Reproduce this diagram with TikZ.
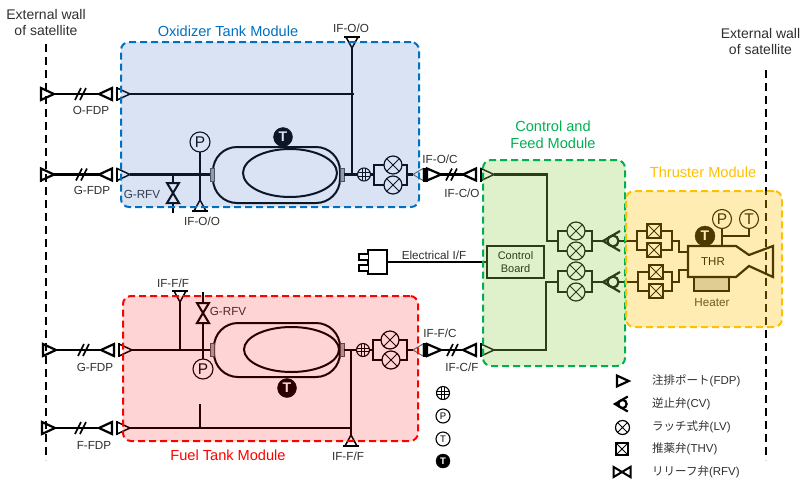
\documentclass[tikz,border=0pt]{standalone}
\usepackage{fontspec}
\setmainfont{Liberation Sans}
\newfontfamily\cjkjp{Noto Sans CJK JP}
\usetikzlibrary{shapes.geometric,calc}
\definecolor{txtgray}{HTML}{2F2F2F}
\definecolor{oxblue}{HTML}{0070C0}
\definecolor{oxfill}{HTML}{4472C4}
\definecolor{fuelred}{HTML}{FF0000}
\definecolor{ctrlgreen}{HTML}{00B050}
\definecolor{ctrlfill}{HTML}{92D050}
\definecolor{thramber}{HTML}{FFC000}
\tikzset{
  x=1pt,y=-1pt,
  pipe/.style={line width=2.2pt,line cap=butt},
  ext/.style={line width=2.2pt},
  int/.style={line width=1.5pt},
  wall/.style={line width=2.2pt,dash pattern=on 8pt off 5pt},
  lbl/.style={font=\fontsize{11.7}{13}\selectfont,text=txtgray,inner sep=0pt},
  wlbl/.style={font=\fontsize{14}{16}\selectfont,text=txtgray,inner sep=0pt,align=center},
  title/.style={font=\fontsize{14.6}{16.5}\selectfont,inner sep=0pt,align=center},
  legtxt/.style={font=\fontsize{11.5}{13}\selectfont,text=txtgray,inner sep=0pt,anchor=west},
  module/.style={rectangle,rounded corners=8pt,line width=2pt,dash pattern=on 7pt off 4pt,inner sep=0pt,outer sep=0pt},
  lv/.style={circle,draw,line width=1.2pt,minimum size=18pt,inner sep=0pt,outer sep=0pt,
    path picture={\draw[line width=1pt] (path picture bounding box.north west)--(path picture bounding box.south east)
      (path picture bounding box.north east)--(path picture bounding box.south west);}},
  thv/.style={rectangle,draw,line width=2pt,minimum size=14pt,inner sep=0pt,outer sep=0pt,
    path picture={\draw[line width=1pt] (path picture bounding box.north west)--(path picture bounding box.south east)
      (path picture bounding box.north east)--(path picture bounding box.south west);}},
  filt/.style={circle,draw,line width=1.1pt,minimum size=13pt,inner sep=0pt,outer sep=0pt,
    path picture={\draw[line width=.8pt]
      ([xshift=-1.7pt]path picture bounding box.north)--([xshift=-1.7pt]path picture bounding box.south)
      ([xshift=1.7pt]path picture bounding box.north)--([xshift=1.7pt]path picture bounding box.south)
      ([yshift=-1.7pt]path picture bounding box.west)--([yshift=-1.7pt]path picture bounding box.east)
      ([yshift=1.7pt]path picture bounding box.west)--([yshift=1.7pt]path picture bounding box.east);}},
  gauge/.style={circle,draw,line width=1.1pt,minimum size=20pt,inner sep=0pt,outer sep=0pt,font=\fontsize{15.5}{15.5}\selectfont},
  tsolid/.style={circle,fill=black,draw=black,minimum size=19pt,inner sep=0pt,outer sep=0pt,text=white,font=\bfseries\fontsize{14}{14}\selectfont},
  smallgauge/.style={gauge,minimum size=14pt,font=\fontsize{9.5}{9.5}\selectfont},
  tank/.style={rectangle,draw,rounded corners=24pt,line width=2pt,inner sep=0pt,outer sep=0pt},
  oval/.style={ellipse,draw,line width=2pt,inner sep=0pt,outer sep=0pt},
  stub/.style={rectangle,draw=black!70,fill=black!35,line width=.8pt,inner sep=0pt,outer sep=0pt,minimum width=4pt,minimum height=13pt},
  pics/port/.style={code={
    \draw (0,-7)--(0,7);
    \draw (0,-6)--(13,0)--(0,6)--cycle;
    \coordinate (-a) at (13,0);}},
  pics/tri/.style={code={
    \draw (0,-6)--(13,0)--(0,6)--cycle;
    \coordinate (-a) at (13,0);
    \coordinate (-b) at (0,0);}},
  pics/ifport/.style={code={
    \draw[line width=1pt,black!60] (-10,0)--(0,-6)--(0,6)--cycle;
    \draw[line width=5pt] (2,-7)--(2,7);
    \draw[line width=2.2pt] (4,-6)--(18,0)--(4,6)--cycle;
    \coordinate (-a) at (18,0);
    \coordinate (-b) at (-10,0);}},
  pics/dslash/.style={code={
    \draw[line width=1.6pt] (-6,6)--(0,-6) (-1,6)--(5,-6);}},
  pics/rfv/.style={code={
    \draw[line width=2pt,line join=miter] (-6,-10)--(6,-10)--(-6,10)--(6,10)--cycle;
    \coordinate (-n) at (0,-10);
    \coordinate (-s) at (0,10);}},
  pics/cv/.style={code={
    \draw[line width=2.2pt] (17,-10)--(0,0)--(17,10);
    \draw[line width=2.2pt] (10,0) circle [radius=5.5pt];
    \coordinate (-a) at (0,0);
    \coordinate (-b) at (15.5,0);}},
  pics/ifdown/.style={code={
    \draw[line width=2pt] (-8,0)--(8,0);
    \draw[line width=1.5pt] (-6,0)--(0,11)--(6,0)--cycle;
    \coordinate (-a) at (0,11);}},
  pics/plug/.style={code={
    \draw[line width=2.2pt,fill=white] (0,-12)--(19,-12)--(19,12)--(0,12)--cycle;
    \draw[line width=2pt,fill=white] (0,-8)--(-9,-8)--(-9,-2)--(0,-2);
    \draw[line width=2pt,fill=white] (0,3)--(-9,3)--(-9,9)--(0,9);
    \coordinate (-a) at (19,0);}},
}
\begin{document}
\begin{tikzpicture}[line join=miter]
\useasboundingbox (0,0) rectangle (800,480);
% satellite walls
\coordinate (wl1) at (46,44); \coordinate (wl2) at (46,460);
\coordinate (wr1) at (766,70); \coordinate (wr2) at (766,460);
\draw[wall] (wl1)--(wl2);
\draw[wall] (wr1)--(wr2);
\node[wlbl] (wallL) at (46,22) {External wall\\of satellite};
\node[wlbl] (wallR) at (760.5,41) {External wall\\of satellite};

% ---------- Oxidizer side
\pic[ext] (oa1) at (41,94) {port};
\pic[ext,rotate=180] (oa2) at (112,94) {tri};
\pic[int] (oa3) at (117,94) {port};
\pic[ext] at (81,94) {dslash};
\draw[pipe] (oa1-a)--(oa2-a);
\node[lbl] (lofdp) at (91,110) {O-FDP};

\pic[ext] (og1) at (41,174.5) {port};
\pic[ext,rotate=180] (og2) at (112,174.5) {tri};
\pic[int] (og3) at (117,174.5) {port};
\pic[ext] at (82,174.5) {dslash};
\draw[pipe] (og1-a)--(og2-a);
\node[lbl] (lgfdp) at (92,190.5) {G-FDP};

\node[tank,minimum width=127pt,minimum height=56pt] (otank) at (276.5,175) {};
\node[oval,minimum width=94pt,minimum height=48pt] (ooval) at (290,173) {};
\node[stub] (ost1) at (212,174.5) {};
\node[stub] (ost2) at (342,174.5) {};
\node[tsolid] (otT) at (283,137) {T};
\node[gauge] (oP) at (200,142) {P};
\draw[pipe] (og3-a)--(ost1.west);
\coordinate (orj) at (173,174.5);
\pic (orv) at (173,193) {rfv};
\coordinate (orend) at (173,213);
\draw[pipe] (orj)--(orv-n) (orv-s)--(orend);
\node[lbl] (lorv) at (142,194) {G-RFV};
\pic[rotate=180] (oifb) at (200,211) {ifdown};
\draw[line width=1.5pt] (oP.south)--(oifb-a);
\node[lbl] (lifoo1) at (202,221) {IF-O/O};
\pic (oift) at (352,37) {ifdown};
\node[lbl] (lifoo2) at (351,28) {IF-O/O};
\coordinate (ojt) at (354,94);
\coordinate (ojb) at (352,174.5);
\draw[pipe] (oa3-a)--(ojt);
\draw[pipe] (oift-a)--(ojb);
\node[filt] (ofilt) at (364,174.5) {};
\draw[pipe] (ost2.east)--(ofilt.west);
\node[lv] (olv1) at (393,165) {};
\node[lv] (olv2) at (393,185) {};
\coordinate (ol) at (374,174.5); \coordinate (or) at (407,174.5);
\draw[pipe] (ofilt.east)--(ol);
\draw[pipe] (olv1.west)-|(ol)|-(olv2.west);
\draw[pipe] (olv1.east)-|(or)|-(olv2.east);
\pic (oif) at (423,174.5) {ifport};
\draw[pipe] (or)--(oif-b);
\pic[ext,rotate=180] (oc2) at (476,174.5) {tri};
\pic[int] (oc3) at (481,174.5) {port};
\pic[ext] at (452,174.5) {dslash};
\draw[pipe] (oif-a)--(oc2-a);
\node[lbl] (lifoc) at (440,159) {IF-O/C};
\node[lbl] (lifco) at (462,193) {IF-C/O};

% ---------- Fuel side
\pic[ext] (fg1) at (43,350) {port};
\pic[ext,rotate=180] (fg2) at (114,350) {tri};
\pic[int] (fg3) at (119,350) {port};
\pic[ext] at (84,350) {dslash};
\draw[pipe] (fg1-a)--(fg2-a);
\node[lbl] (lfgfdp) at (95,367) {G-FDP};

\pic[ext] (ff1) at (42,428) {port};
\pic[ext,rotate=180] (ff2) at (112,428) {tri};
\pic[int] (ff3) at (117,428) {port};
\pic[ext] at (81,428) {dslash};
\draw[pipe] (ff1-a)--(ff2-a);
\node[lbl] (lffdp) at (94,445) {F-FDP};

\node[tank,minimum width=126pt,minimum height=54pt] (ftank) at (277,350) {};
\node[oval,minimum width=95pt,minimum height=45pt] (foval) at (291.5,349.5) {};
\node[stub] (fst1) at (212,350) {};
\node[stub] (fst2) at (342,350) {};
\node[tsolid] (ftT) at (287,388) {T};
\node[gauge] (fP) at (203,369) {P};
\draw[pipe] (fg3-a)--(fst1.west);
\pic (fift) at (180,291) {ifdown};
\coordinate (fj1) at (180,350);
\draw[pipe] (fift-a)--(fj1);
\node[lbl] (liff1) at (173,283) {IF-F/F};
\pic (frv) at (203,313) {rfv};
\coordinate (frtop) at (203,292);
\coordinate (fj2) at (203,350);
\draw[pipe] (frtop)--(frv-n) (frv-s)--(fj2);
\draw[line width=1.5pt] (fj2)--(fP.north);
\node[lbl] (lfrv) at (228,311) {G-RFV};
\coordinate (fstub) at (200,404);
\coordinate (fstubj) at (200,428);
\draw[pipe] (fstub)--(fstubj);
\coordinate (fvj) at (351,350);
\coordinate (fbj) at (351,428);
\pic[rotate=180] (fifb) at (351,446) {ifdown};
\draw[pipe] (ff3-a)--(fbj);
\draw[pipe] (fvj)--(fifb-a);
\node[lbl] (liff2) at (348,456) {IF-F/F};
\node[filt] (ffilt) at (363,350) {};
\draw[pipe] (fst2.east)--(ffilt.west);
\node[lv] (flv1) at (390,340) {};
\node[lv] (flv2) at (391,360) {};
\coordinate (fl) at (373,350); \coordinate (fr) at (407,350);
\draw[pipe] (ffilt.east)--(fl);
\draw[pipe] (flv1.west)-|(fl)|-(flv2.west);
\draw[pipe] (flv1.east)-|(fr)|-(flv2.east);
\pic (fif) at (423,350) {ifport};
\draw[pipe] (fr)--(fif-b);
\pic[ext,rotate=180] (fc2) at (476,350) {tri};
\pic[int] (fc3) at (481,350) {port};
\pic[ext] at (453,350) {dslash};
\draw[pipe] (fif-a)--(fc2-a);
\node[lbl] (liffc) at (440,333) {IF-F/C};
\node[lbl] (lifcf) at (462,367) {IF-C/F};

% ---------- Control and feed
\node[rectangle,draw,line width=2.2pt,minimum width=57pt,minimum height=32pt,inner sep=0pt,outer sep=0pt,
  font=\fontsize{11}{13}\selectfont,align=center] (board) at (515.5,262) {Control\\Board};
\pic (plug) at (368,262) {plug};
\draw[pipe] (plug-a)--(board.west);
\node[lbl] (lelec) at (434,255) {Electrical I/F};
\node[lv] (clv1) at (576,231) {};
\node[lv] (clv2) at (576,251) {};
\node[lv] (clv3) at (576,271) {};
\node[lv] (clv4) at (576,292) {};
\coordinate (cl1) at (558,241); \coordinate (cr1) at (592,241);
\coordinate (cl2) at (558,282); \coordinate (cr2) at (592,282);
\draw[pipe] (clv1.west)-|(cl1)|-(clv2.west);
\draw[pipe] (clv1.east)-|(cr1)|-(clv2.east);
\draw[pipe] (clv3.west)-|(cl2)|-(clv4.west);
\draw[pipe] (clv3.east)-|(cr2)|-(clv4.east);
\coordinate (ct1) at (547,174.5); \coordinate (ct2) at (547,241);
\coordinate (ct3) at (546,282); \coordinate (ct4) at (546,350);
\draw[pipe] (oc3-a)--(ct1)--(ct2)--(cl1);
\draw[pipe] (fc3-a)--(ct4)--(ct3)--(cl2);
\pic (cv1) at (603,241) {cv};
\pic (cv2) at (603,282) {cv};
\draw[pipe] (cr1)--(cv1-a);
\draw[pipe] (cr2)--(cv2-a);

% ---------- Thruster
\node[thv] (tv1) at (654,231) {};
\node[thv] (tv2) at (654,250) {};
\node[thv] (tv3) at (656,272) {};
\node[thv] (tv4) at (656,291) {};
\coordinate (tl1) at (637,241); \coordinate (tr1) at (672,241);
\coordinate (tl2) at (638,282); \coordinate (tr2) at (672,282);
\draw[pipe] (tv1.west)-|(tl1)|-(tv2.west);
\draw[pipe] (tv1.east)-|(tr1)|-(tv2.east);
\draw[pipe] (tv3.west)-|(tl2)|-(tv4.west);
\draw[pipe] (tv3.east)-|(tr2)|-(tv4.east);
\draw[pipe] (cv1-b)--(tl1);
\draw[pipe] (cv2-b)--(tl2);
\coordinate (tb1) at (688,252); \coordinate (tb2) at (688,270);
\coordinate (tm1) at (679,241); \coordinate (tm2) at (679,282);
\draw[pipe] (tr1)--(tm1)--(tm1|-tb1)--(tb1);
\draw[pipe] (tr2)--(tm2)--(tm2|-tb2)--(tb2);
\node[rectangle,draw,fill=black!17,line width=2.2pt,minimum width=35pt,minimum height=14pt,inner sep=0pt,outer sep=0pt] (heater) at (711.5,284) {};
\draw[line width=2.2pt,line join=miter] (688,246)--(736,246)--(749,255)--(773,246)--(773,277)--(749,266)--(736,277)--(688,277)--cycle;
\node[font=\fontsize{11.5}{13}\selectfont,inner sep=0pt] (lthr) at (713,262) {THR};
\node[lbl] (lheater) at (712,303) {Heater};
\node[tsolid,minimum size=20pt] (tT) at (705,236) {T};
\node[gauge,minimum size=19pt] (tP) at (722,219) {P};
\node[gauge,minimum size=19pt] (tTo) at (749,219) {T};
\coordinate (tj1) at (722,246); \coordinate (tj2) at (722,236);
\draw[pipe] (tP.south)--(tj1);
\draw[pipe] (tTo.south)|-(tj2);

% ---------- Module overlays
\node[module,draw=oxblue,fill=oxfill,fill opacity=.2,draw opacity=1,minimum width=298pt,minimum height=165pt] (modox) at (270,124.5) {};
\node[module,draw=fuelred,fill=fuelred,fill opacity=.17,draw opacity=1,minimum width=295pt,minimum height=145pt] (modfu) at (270.5,368.5) {};
\node[module,draw=ctrlgreen,fill=ctrlfill,fill opacity=.3,draw opacity=1,minimum width=142pt,minimum height=206pt] (modct) at (554,263) {};
\node[module,draw=thramber,fill=thramber,fill opacity=.3,draw opacity=1,minimum width=156pt,minimum height=136pt] (modth) at (704,259) {};
\node[title,text=oxblue] (tox) at (228,31) {Oxidizer Tank Module};
\node[title,text=fuelred] (tfu) at (228,455) {Fuel Tank Module};
\node[title,text=ctrlgreen] (tct) at (553,135) {Control and\\Feed Module};
\node[title,text=thramber] (tth) at (703,172) {Thruster Module};

% ---------- Legends
\node[filt] (lg1) at (443,393) {};
\node[smallgauge] (lg2) at (443,416) {P};
\node[smallgauge] (lg3) at (443,439) {T};
\node[tsolid,minimum size=14pt,font=\bfseries\fontsize{9.5}{9.5}\selectfont] (lg4) at (443,461) {T};

\pic[line width=2.2pt,scale=.9] (lgf) at (617,381) {tri};
\pic[scale=.75] (lgc) at (615,404) {cv};
\node[lv,minimum size=14pt] (lgl) at (622.5,427.5) {};
\node[thv,minimum size=12pt] (lgt) at (622,449) {};
\pic[rotate=90,scale=.85] (lgr) at (622,472) {rfv};
\node[legtxt] (ltx1) at (652,381) {{\cjkjp 注排ポート}(FDP)};
\node[legtxt] (ltx2) at (652,404) {{\cjkjp 逆止弁}(CV)};
\node[legtxt] (ltx3) at (652,427) {{\cjkjp ラッチ式弁}(LV)};
\node[legtxt] (ltx4) at (652,449) {{\cjkjp 推薬弁}(THV)};
\node[legtxt] (ltx5) at (652,472) {{\cjkjp リリーフ弁}(RFV)};
\end{tikzpicture}
\end{document}
